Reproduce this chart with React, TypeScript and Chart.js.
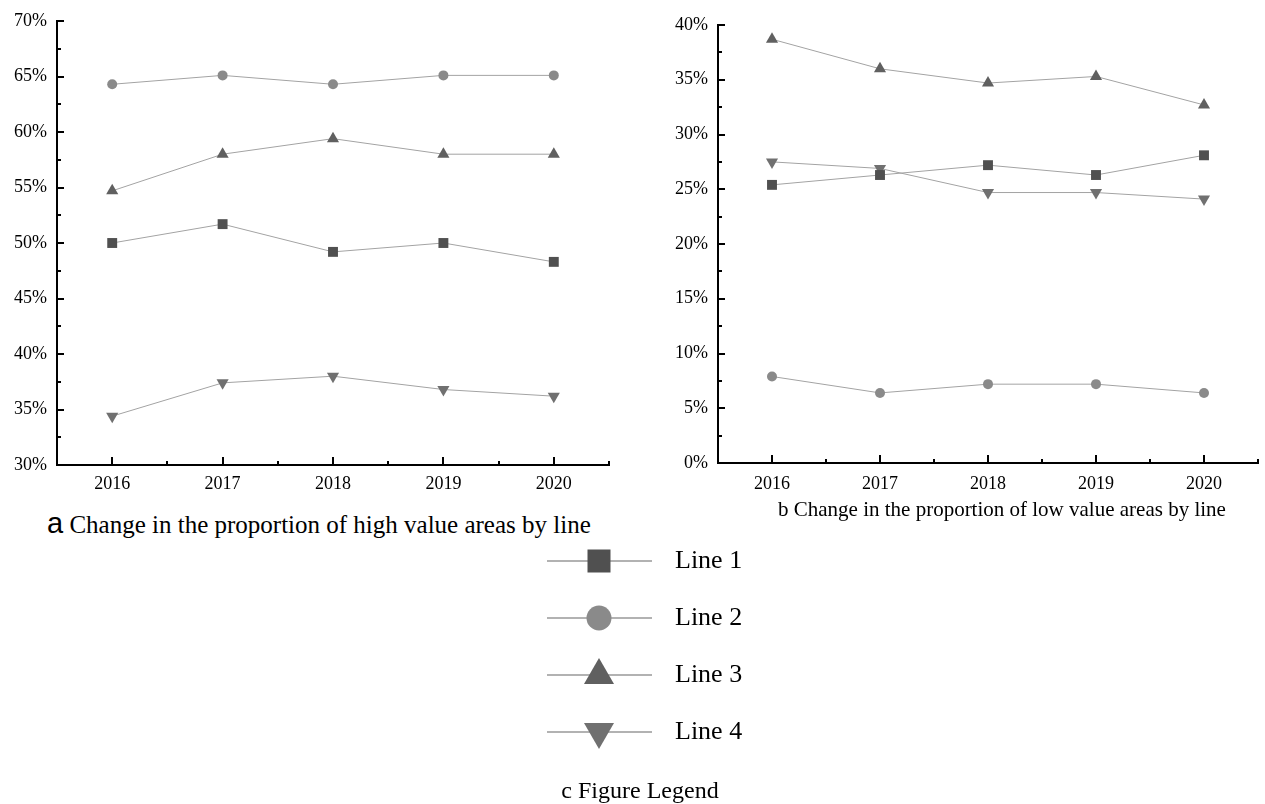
import React, { useEffect, useRef } from "react";
import { Chart, registerables } from "chart.js";

Chart.register(...registerables);

const years = ["2016", "2017", "2018", "2019", "2020"];
const seriesNames = ["Line 1", "Line 2", "Line 3", "Line 4"];

const highLine1 = [50.0, 51.7, 49.2, 50.0, 48.3];
const highLine2 = [64.3, 65.1, 64.3, 65.1, 65.1];
const highLine3 = [54.7, 58.0, 59.4, 58.0, 58.0];
const highLine4 = [34.4, 37.4, 38.0, 36.8, 36.2];

const lowLine1 = [25.4, 26.3, 27.2, 26.3, 28.1];
const lowLine2 = [7.9, 6.4, 7.2, 7.2, 6.4];
const lowLine3 = [38.7, 36.0, 34.7, 35.3, 32.7];
const lowLine4 = [27.5, 26.9, 24.7, 24.7, 24.1];

const highRange = [30, 70];
const lowRange = [0, 40];
const yStep = 5;

const markerColors = ["#505050", "#8a8a8a", "#606060", "#707070"];
const lineColor = "#a3a3a3";
const SERIF = "'Liberation Serif', 'Times New Roman', serif";

const inwardTicks = {
  id: "inwardTicks",
  afterDraw(chart: any) {
    const { ctx, chartArea, scales } = chart;
    const x = scales.x;
    const y = scales.y;
    const bottom = chartArea.bottom;
    const left = chartArea.left;
    ctx.save();
    ctx.strokeStyle = "#000";
    ctx.lineWidth = 2;
    const seg = (x1: number, y1: number, x2: number, y2: number) => {
      ctx.beginPath();
      ctx.moveTo(x1, y1);
      ctx.lineTo(x2, y2);
      ctx.stroke();
    };
    const n = x.getLabels().length;
    for (let i = 0; i < n; i++) {
      const px = Math.round(x.getPixelForValue(i));
      seg(px, bottom, px, bottom - 8);
      const mx = Math.round(x.getPixelForValue(i + 0.5));
      seg(mx, bottom, mx, bottom - 4);
    }
    const ticks = y.ticks;
    for (let k = 0; k < ticks.length; k++) {
      const py = Math.round(y.getPixelForValue(ticks[k].value));
      seg(left, py, left + 7, py);
      if (k < ticks.length - 1) {
        const mv = (ticks[k].value + ticks[k + 1].value) / 2;
        const my = Math.round(y.getPixelForValue(mv));
        seg(left, my, left + 4, my);
      }
    }
    ctx.restore();
  },
};

function makeDatasets(series: number[][]) {
  const styles: any[] = [
    { pointStyle: "rect", radius: 7, rotation: 0 },
    { pointStyle: "circle", radius: 5, rotation: 0 },
    { pointStyle: "triangle", radius: 7, rotation: 0 },
    { pointStyle: "triangle", radius: 7, rotation: 180 },
  ];
  return series.map((data, i) => ({
    label: seriesNames[i],
    data,
    borderColor: lineColor,
    borderWidth: 1,
    pointStyle: styles[i].pointStyle,
    pointRadius: styles[i].radius,
    pointRotation: styles[i].rotation,
    pointBackgroundColor: markerColors[i],
    pointBorderColor: markerColors[i],
    pointBorderWidth: 0,
    tension: 0,
    fill: false,
  }));
}

function LineChart(props: {
  series: number[][];
  range: number[];
  left: number;
  width: number;
  height: number;
  padTop: number;
  padRight: number;
  yWidth: number;
  xHeight: number;
  xPad: number;
}) {
  const ref = useRef<HTMLCanvasElement | null>(null);
  useEffect(() => {
    if (!ref.current) return;
    const chart = new Chart(ref.current, {
      type: "line",
      data: { labels: years, datasets: makeDatasets(props.series) as any },
      options: {
        animation: false,
        responsive: false,
        maintainAspectRatio: false,
        devicePixelRatio: 1,
        layout: { padding: { top: props.padTop, right: props.padRight, left: 0, bottom: 0 } },
        plugins: { legend: { display: false }, tooltip: { enabled: false } },
        scales: {
          x: {
            type: "category",
            offset: true,
            grid: { display: true, drawOnChartArea: false, drawTicks: false, offset: true },
            border: { display: true, color: "#000", width: 2 },
            ticks: {
              color: "#000",
              font: { family: SERIF, size: 18 },
              padding: props.xPad,
              maxRotation: 0,
            },
            afterFit: (s: any) => {
              s.height = props.xHeight;
            },
          },
          y: {
            type: "linear",
            min: props.range[0],
            max: props.range[1],
            grid: { display: true, drawOnChartArea: false, drawTicks: false },
            border: { display: true, color: "#000", width: 2 },
            ticks: {
              stepSize: yStep,
              color: "#000",
              font: { family: SERIF, size: 18 },
              padding: 10,
              callback: (v: any) => v + "%",
            },
            afterFit: (s: any) => {
              s.width = props.yWidth;
            },
          },
        },
      } as any,
      plugins: [inwardTicks],
    });
    return () => chart.destroy();
  }, []);
  return (
    <canvas
      ref={ref}
      width={props.width}
      height={props.height}
      style={{ position: "absolute", left: props.left, top: 0, width: props.width, height: props.height }}
    />
  );
}

function LegendMarker(props: { index: number; cy: number }) {
  const cx = 599;
  const c = markerColors[props.index];
  const { index, cy } = props;
  let shape: any = null;
  if (index === 0) shape = <rect x={cx - 11.5} y={cy - 11.5} width={23} height={23} fill={c} />;
  else if (index === 1) shape = <circle cx={cx} cy={cy} r={12.5} fill={c} />;
  else if (index === 2)
    shape = <polygon points={`${cx},${cy - 17} ${cx - 15},${cy + 9} ${cx + 15},${cy + 9}`} fill={c} />;
  else shape = <polygon points={`${cx},${cy + 17} ${cx - 15},${cy - 9} ${cx + 15},${cy - 9}`} fill={c} />;
  return (
    <g>
      <line x1={547} y1={cy} x2={652} y2={cy} stroke="#999" strokeWidth={1.5} />
      {shape}
    </g>
  );
}

export default function App() {
  const legendY = [561, 618, 675, 732];
  return (
    <div style={{ position: "absolute", left: 0, top: 0, width: 1265, height: 804, background: "#fff", overflow: "hidden" }}>
      <LineChart
        series={[highLine1, highLine2, highLine3, highLine4]}
        range={highRange}
        left={0}
        width={620}
        height={500}
        padTop={21}
        padRight={11}
        yWidth={57}
        xHeight={35}
        xPad={8}
      />
      <LineChart
        series={[lowLine1, lowLine2, lowLine3, lowLine4]}
        range={lowRange}
        left={640}
        width={625}
        height={500}
        padTop={25}
        padRight={2}
        yWidth={78}
        xHeight={37}
        xPad={10}
      />
      <div
        style={{
          position: "absolute",
          left: 47,
          top: 511,
          fontFamily: SERIF,
          fontSize: 25,
          lineHeight: "25px",
          color: "#000",
          whiteSpace: "nowrap",
        }}
      >
        <span style={{ fontFamily: "'Liberation Sans', Arial, sans-serif", fontSize: 29 }}>a</span> Change in the
        proportion of high value areas by line
      </div>
      <div
        style={{
          position: "absolute",
          left: 778,
          top: 499,
          fontFamily: SERIF,
          fontSize: 21,
          lineHeight: "21px",
          color: "#000",
          whiteSpace: "nowrap",
        }}
      >
        b Change in the proportion of low value areas by line
      </div>
      <svg width={1265} height={804} style={{ position: "absolute", left: 0, top: 0 }}>
        {seriesNames.map((_, i) => (
          <LegendMarker key={i} index={i} cy={legendY[i]} />
        ))}
      </svg>
      {seriesNames.map((name, i) => (
        <div
          key={name}
          style={{
            position: "absolute",
            left: 675,
            top: legendY[i] - 14,
            fontFamily: SERIF,
            fontSize: 26,
            lineHeight: "26px",
            color: "#000",
            whiteSpace: "nowrap",
          }}
        >
          {name}
        </div>
      ))}
      <div
        style={{
          position: "absolute",
          left: 440,
          width: 400,
          top: 778,
          textAlign: "center",
          fontFamily: SERIF,
          fontSize: 24,
          lineHeight: "24px",
          color: "#000",
          whiteSpace: "nowrap",
        }}
      >
        c Figure Legend
      </div>
    </div>
  );
}
